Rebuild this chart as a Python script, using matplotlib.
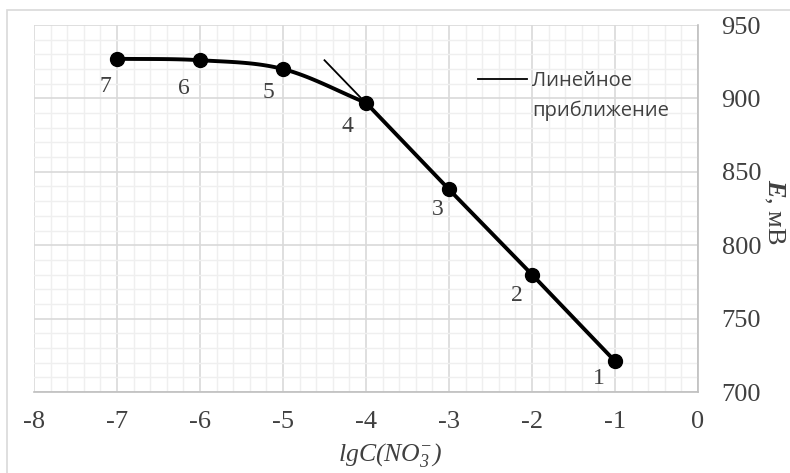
import matplotlib
matplotlib.use("Agg")
import matplotlib.pyplot as plt
import numpy as np
from matplotlib.patches import Rectangle
from matplotlib.ticker import MultipleLocator

plt.rcParams["axes.unicode_minus"] = False
plt.rcParams["mathtext.fontset"] = "custom"
plt.rcParams["mathtext.rm"] = "Liberation Serif:italic"
plt.rcParams["mathtext.it"] = "Liberation Serif:italic"
plt.rcParams["mathtext.bf"] = "Liberation Serif:bold:italic"

lgC = [-7, -6, -5, -4, -3, -2, -1]
E = [927, 926, 920, 897, 838, 780, 721]
point_labels = ["7", "6", "5", "4", "3", "2", "1"]
fit_x = [-4.5, -1]
fit_y = [926, 721]
legend_line1 = "Линейное"
legend_line2 = "приближение"

serif = "Liberation Serif"
gray = "#404040"

fig = plt.figure(figsize=(7.9, 4.73), dpi=100)
fig.patches.append(Rectangle((7/790, -0.1), 1.0, 1 - 10/473 + 0.1, transform=fig.transFigure,
                             fill=False, edgecolor="#d9d9d9", linewidth=1.2))
ax = fig.add_axes([34/790, 1 - 392/473, (698-34)/790, (392-25)/473])

xs = np.array(lgC, dtype=float)
ys = np.array(E, dtype=float)

def catmull(x, y, n=30):
    px, py = [], []
    X = np.concatenate([[2*x[0]-x[1]], x, [2*x[-1]-x[-2]]])
    Y = np.concatenate([[2*y[0]-y[1]], y, [2*y[-1]-y[-2]]])
    for i in range(1, len(X)-2):
        t = np.linspace(0, 1, n)
        for arr, out in ((X, px), (Y, py)):
            p0, p1, p2, p3 = arr[i-1], arr[i], arr[i+1], arr[i+2]
            out.extend(0.5*((2*p1) + (-p0+p2)*t + (2*p0-5*p1+4*p2-p3)*t**2 + (-p0+3*p1-3*p2+p3)*t**3))
    return np.array(px), np.array(py)

# curved part (points 7..4) and straight part (points 4..1)
cx, cy = catmull(xs[:4], ys[:4])
ax.plot(cx, cy, color="black", lw=2.8, zorder=3, solid_capstyle="round")
ax.plot(xs[3:], ys[3:], color="black", lw=2.8, zorder=3, solid_capstyle="round")
ax.plot(xs, ys, 'o', color="black", ms=10, zorder=4)
ax.plot(fit_x, fit_y, color="black", lw=1.3, zorder=3, label=legend_line1)

offsets = [(-0.14, -19), (-0.2, -19), (-0.18, -16), (-0.22, -16), (-0.14, -14), (-0.18, -14), (-0.2, -12)]
for x, y, t, (dx, dy) in zip(lgC, E, point_labels, offsets):
    ax.text(x+dx, y+dy, t, family=serif, fontsize=17, color=gray, ha="center", va="center")

ax.set_xlim(-8, 0)
ax.set_ylim(700, 950)
ax.xaxis.set_major_locator(MultipleLocator(1))
ax.xaxis.set_minor_locator(MultipleLocator(0.2))
ax.yaxis.set_major_locator(MultipleLocator(50))
ax.yaxis.set_minor_locator(MultipleLocator(10))
ax.grid(which="major", color="#d9d9d9", lw=1.2)
ax.grid(which="minor", color="#efefef", lw=1.0)
ax.set_axisbelow(True)
ax.yaxis.tick_right()
ax.tick_params(which="both", length=0)
ax.tick_params(axis="x", pad=14)
ax.tick_params(axis="y", pad=17)
for lab in ax.get_xticklabels() + ax.get_yticklabels():
    lab.set_family(serif)
    lab.set_fontsize(19)
    lab.set_color(gray)
for s in ["top", "left"]:
    ax.spines[s].set_visible(False)
for s in ["bottom", "right"]:
    ax.spines[s].set_color("#bfbfbf")
    ax.spines[s].set_linewidth(1.2)

fig.text(390/790, 1 - 455/473, r"lgC(NO$_3^{-}$)", ha="center", va="center",
         fontsize=18.5, color=gray, family=serif, style="italic")
fig.text(774/790, 1 - 212/473, r"$\mathbf{E}$, мВ", rotation=270,
         ha="center", va="center", fontsize=19, color=gray, family=serif)

leg = ax.legend(loc="center left", bbox_to_anchor=((478-34)/664, 1 - (81-25)/367), frameon=False,
                handlelength=2.45, handletextpad=0.25, borderpad=0, borderaxespad=0,
                prop={"family": "Open Sans", "size": 14.5})
for t in leg.get_texts():
    t.set_color(gray)

fig.canvas.draw()
bb = leg.get_texts()[0].get_window_extent()
x0, _ = fig.transFigure.inverted().transform((bb.x0, bb.y0))
fig.text(x0, 1 - 111/473, legend_line2, ha="left", va="center", family="Open Sans",
         fontsize=14.5, color=gray)

fig.savefig("out.png", dpi=100)
